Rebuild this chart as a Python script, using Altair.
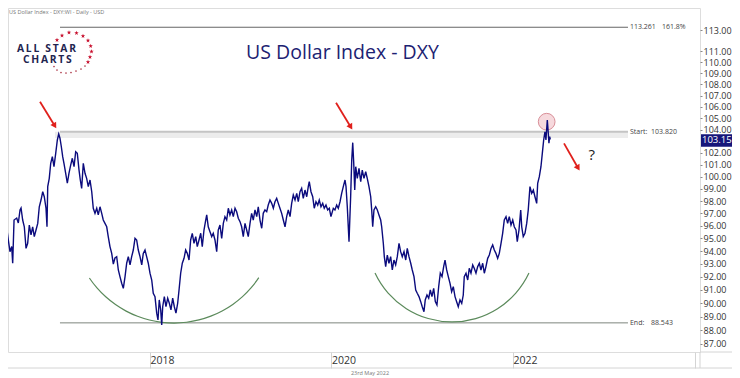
import altair as alt
import pandas as pd

# ---------------- data (decimal year, DXY close) ----------------
YEARS = [
    2016.377, 2016.402, 2016.421, 2016.439, 2016.457, 2016.476, 2016.487, 2016.502, 2016.531, 2016.549,
    2016.568, 2016.579, 2016.597, 2016.615, 2016.634, 2016.652, 2016.670, 2016.689, 2016.707, 2016.725,
    2016.744, 2016.763, 2016.780, 2016.799, 2016.818, 2016.835, 2016.854, 2016.865, 2016.873, 2016.890,
    2016.906, 2016.924, 2016.942, 2016.961, 2016.979, 2016.994, 2017.008, 2017.023, 2017.038, 2017.052,
    2017.071, 2017.089, 2017.107, 2017.126, 2017.144, 2017.163, 2017.181, 2017.199, 2017.218, 2017.232,
    2017.247, 2017.265, 2017.284, 2017.302, 2017.320, 2017.339, 2017.358, 2017.375, 2017.394, 2017.413,
    2017.430, 2017.449, 2017.468, 2017.485, 2017.504, 2017.523, 2017.540, 2017.559, 2017.578, 2017.596,
    2017.614, 2017.633, 2017.651, 2017.669, 2017.688, 2017.706, 2017.725, 2017.743, 2017.761, 2017.780,
    2017.798, 2017.816, 2017.835, 2017.853, 2017.871, 2017.890, 2017.909, 2017.926, 2017.945, 2017.963,
    2017.981, 2018.000, 2018.019, 2018.036, 2018.055, 2018.074, 2018.088, 2018.102, 2018.118, 2018.129,
    2018.140, 2018.158, 2018.176, 2018.195, 2018.213, 2018.231, 2018.250, 2018.268, 2018.286, 2018.305,
    2018.320, 2018.338, 2018.356, 2018.375, 2018.393, 2018.411, 2018.430, 2018.448, 2018.466, 2018.485,
    2018.504, 2018.521, 2018.540, 2018.559, 2018.576, 2018.595, 2018.614, 2018.625, 2018.642, 2018.661,
    2018.680, 2018.697, 2018.716, 2018.735, 2018.752, 2018.771, 2018.790, 2018.808, 2018.826, 2018.845,
    2018.863, 2018.881, 2018.900, 2018.918, 2018.937, 2018.955, 2018.973, 2018.992, 2019.010, 2019.028,
    2019.047, 2019.065, 2019.083, 2019.102, 2019.120, 2019.138, 2019.157, 2019.176, 2019.193, 2019.212,
    2019.231, 2019.248, 2019.267, 2019.286, 2019.303, 2019.322, 2019.341, 2019.359, 2019.377, 2019.396,
    2019.414, 2019.432, 2019.451, 2019.469, 2019.488, 2019.506, 2019.524, 2019.543, 2019.561, 2019.579,
    2019.598, 2019.617, 2019.634, 2019.653, 2019.671, 2019.689, 2019.708, 2019.727, 2019.744, 2019.755,
    2019.774, 2019.793, 2019.810, 2019.829, 2019.848, 2019.865, 2019.884, 2019.903, 2019.920, 2019.939,
    2019.958, 2019.976, 2019.994, 2020.020, 2020.038, 2020.057, 2020.075, 2020.094, 2020.112, 2020.130,
    2020.149, 2020.160, 2020.174, 2020.193, 2020.211, 2020.223, 2020.234, 2020.245, 2020.256, 2020.267,
    2020.284, 2020.303, 2020.322, 2020.339, 2020.358, 2020.377, 2020.394, 2020.413, 2020.432, 2020.443,
    2020.454, 2020.468, 2020.487, 2020.505, 2020.523, 2020.542, 2020.553, 2020.571, 2020.582, 2020.597,
    2020.615, 2020.633, 2020.652, 2020.670, 2020.688, 2020.707, 2020.725, 2020.744, 2020.762, 2020.780,
    2020.799, 2020.818, 2020.835, 2020.854, 2020.873, 2020.890, 2020.909, 2020.928, 2020.945, 2020.964,
    2020.983, 2021.000, 2021.019, 2021.033, 2021.052, 2021.071, 2021.089, 2021.107, 2021.126, 2021.144,
    2021.162, 2021.181, 2021.199, 2021.218, 2021.236, 2021.251, 2021.269, 2021.287, 2021.306, 2021.324,
    2021.342, 2021.361, 2021.379, 2021.397, 2021.416, 2021.435, 2021.452, 2021.463, 2021.482, 2021.501,
    2021.518, 2021.537, 2021.556, 2021.573, 2021.592, 2021.611, 2021.629, 2021.647, 2021.666, 2021.684,
    2021.702, 2021.721, 2021.739, 2021.758, 2021.776, 2021.794, 2021.812, 2021.831, 2021.849, 2021.868,
    2021.886, 2021.904, 2021.923, 2021.941, 2021.959, 2021.978, 2021.997, 2022.014, 2022.033, 2022.047,
    2022.066, 2022.085, 2022.096, 2022.113, 2022.132, 2022.151, 2022.168, 2022.187, 2022.206, 2022.224,
    2022.242, 2022.261, 2022.272, 2022.290, 2022.308, 2022.323, 2022.338, 2022.352, 2022.363, 2022.378,
    2022.389, 2022.396, 2022.404, 2022.411,
]
DXY = [
    94.24, 95.66, 95.82, 94.87, 93.95, 94.35, 93.05, 96.46, 96.62, 96.22,
    97.27, 97.43, 96.46, 95.92, 94.21, 94.61, 96.06, 95.27, 95.92, 95.14,
    95.66, 96.19, 97.53, 98.08, 98.76, 98.35, 97.41, 95.92, 99.18, 99.87,
    101.13, 101.69, 100.84, 101.97, 103.11, 103.63, 103.26, 102.53, 101.69, 101.13,
    100.29, 99.46, 100.29, 100.98, 101.55, 100.84, 102.11, 101.97, 100.56, 99.73,
    99.04, 101.13, 100.29, 99.87, 99.18, 99.73, 98.76, 97.41, 97.00, 97.41,
    96.87, 97.53, 97.00, 96.46, 96.19, 95.92, 95.14, 94.35, 93.82, 92.99,
    93.46, 93.56, 92.53, 92.02, 91.51, 91.13, 92.02, 93.05, 93.56, 92.92,
    93.56, 94.08, 95.00, 94.87, 94.08, 93.56, 92.92, 93.82, 94.08, 93.56,
    93.05, 92.28, 91.76, 90.75, 90.50, 89.26, 88.76, 90.25, 89.50, 88.39,
    89.74, 90.50, 89.74, 90.38, 90.00, 89.50, 90.38, 89.74, 89.26, 90.00,
    91.00, 92.28, 93.05, 93.43, 94.08, 93.82, 93.30, 94.87, 95.40, 94.61,
    95.14, 94.35, 94.87, 95.40, 94.35, 95.66, 96.46, 96.87, 95.92, 95.53,
    95.14, 95.40, 94.87, 93.95, 95.66, 96.06, 95.00, 96.19, 96.73, 96.46,
    97.41, 96.87, 97.27, 96.73, 97.41, 97.13, 96.60, 96.33, 95.92, 95.14,
    96.19, 95.66, 95.14, 96.19, 97.00, 96.46, 97.27, 96.73, 97.53, 96.46,
    95.80, 97.00, 97.27, 97.13, 97.67, 98.08, 97.81, 97.41, 97.94, 98.22,
    97.81, 97.41, 97.00, 96.46, 95.92, 96.73, 97.27, 96.73, 97.81, 98.49,
    98.08, 98.63, 97.94, 98.76, 99.04, 98.22, 98.90, 98.35, 99.18, 99.59,
    98.76, 98.35, 97.41, 97.94, 97.67, 98.08, 97.53, 97.81, 97.41, 97.67,
    97.27, 97.41, 96.73, 97.41, 97.27, 97.67, 97.41, 97.94, 98.63, 99.18,
    99.73, 99.18, 97.53, 94.74, 98.35, 101.41, 102.88, 101.13, 98.90, 100.84,
    99.87, 100.70, 99.59, 100.56, 99.87, 100.42, 99.87, 99.18, 98.35, 97.27,
    95.92, 97.27, 97.53, 97.27, 96.87, 96.46, 95.92, 94.61, 93.56, 92.79,
    93.69, 93.05, 93.56, 92.53, 93.30, 92.92, 93.56, 94.61, 93.95, 93.56,
    93.95, 93.30, 94.21, 93.56, 93.05, 92.53, 92.02, 91.00, 90.75, 90.50,
    90.12, 89.74, 89.37, 90.25, 90.62, 90.38, 91.00, 90.50, 91.13, 90.12,
    89.87, 91.25, 92.28, 92.02, 92.79, 93.30, 92.53, 92.02, 91.51, 90.87,
    91.25, 90.50, 90.12, 89.74, 90.25, 90.00, 90.62, 92.02, 92.28, 91.76,
    92.66, 92.28, 92.92, 92.66, 92.28, 92.79, 93.05, 92.53, 93.05, 92.28,
    92.79, 93.43, 93.69, 94.21, 94.48, 94.08, 93.82, 93.43, 93.82, 94.61,
    95.40, 96.46, 96.73, 96.19, 96.73, 96.06, 96.46, 95.92, 95.66, 94.74,
    95.66, 97.27, 95.92, 95.14, 95.40, 96.19, 97.27, 99.18, 98.63, 98.90,
    98.35, 97.81, 99.46, 100.01, 100.84, 101.97, 103.11, 103.82, 103.11, 104.84,
    103.68, 102.83, 103.40, 103.15,
]

X_TICKS = [2018, 2020, 2022, 2024]
Y_TICKS = [113, 111, 110, 109, 108, 107, 106, 105, 104, 102, 101, 100,
           99, 98, 97, 96, 95, 94, 93, 92, 91, 90, 89, 88, 87]

# Fibonacci levels drawn on the chart
LEVEL_VALUES = [113.261, 103.820, 88.543]
LEVEL_LEFT_TEXT = ["113.261", "Start:", "End:"]
LEVEL_RIGHT_TEXT = ["161.8%", "103.820", "88.543"]
LEVEL_RIGHT_X = [2023.642, 2023.521, 2023.521]
LEVEL_START, LEVEL_END = 2017.008, 2023.267
LEVEL_TEXT_X = 2023.289
LEVEL_COLORS = ["#666666", "#c4c4c4", "#7d857d"]
LEVEL_WIDTHS = [1.2, 2.0, 1.0]
BAND = (2016.953, 2023.267, 103.82, 103.28)

LAST_PRICE = 103.15
LAST_BOX = (103.60, 102.53)

# red arrows (start -> tip)
ARROW_X = [2016.788, 2020.050, 2022.562]
ARROW_Y = [106.45, 106.36, 102.82]
ARROW_X2 = [2016.945, 2020.207, 2022.712]
ARROW_Y2 = [104.40, 104.30, 100.80]
QUESTION = (2022.867, 101.83)
PEAK_CIRCLE = (2022.371, 104.69)

# rounded bottoms (centre year, centre value, radius px, start/end angle)
ARCS = [(2018.2645, 96.38, 102, 2.16, 4.12), (2021.328, 95.11, 85, 2.01, 4.275)]

X_DOM = [2016.4353, 2024.0606]
Y_DOM = [86.42, 115.09]
W, H = 692, 344

xs = alt.Scale(domain=X_DOM, nice=False, zero=False)
ys = alt.Scale(type="log", domain=Y_DOM, nice=False, zero=False)
FONT = "Open Sans"

X_AXIS = alt.Axis(
    values=X_TICKS, format="d", labelExpr="datum.value >= 2024 ? '' : datum.label",
    title=None, grid=False, domain=False, ticks=True, tickSize=16, tickColor="#d4d4d4",
    labelAlign="left", labelBaseline="middle", labelPadding=-8, labelFlush=False,
    labelOverlap=False, labelFont=FONT, labelFontSize=10.5, labelColor="#333")
Y_AXIS = alt.Axis(
    orient="right", values=Y_TICKS, format=".2f", title=None, grid=False, domain=False,
    tickSize=2, tickColor="#888", labelPadding=1, labelOverlap=False, labelFlush=False,
    labelFont=FONT, labelFontSize=9, labelColor="#333")


def X(field=None, datum=None):
    if datum is not None:
        return alt.X(datum=datum, type="quantitative", scale=xs, axis=X_AXIS)
    return alt.X(field, type="quantitative", scale=xs, axis=X_AXIS)


def Y(field=None, datum=None):
    if datum is not None:
        return alt.Y(datum=datum, type="quantitative", scale=ys, axis=Y_AXIS)
    return alt.Y(field, type="quantitative", scale=ys, axis=Y_AXIS)


df = pd.DataFrame({"year": YEARS, "dxy": DXY})
ONE = pd.DataFrame({"k": [0]})

layers = []

# start band
band_df = pd.DataFrame({"x": [BAND[0]], "x2": [BAND[1]], "y": [BAND[2]], "y2": [BAND[3]]})
layers.append(alt.Chart(band_df).mark_rect(color="#ececec").encode(
    x=X("x"), x2="x2:Q", y=Y("y"), y2="y2:Q"))

# level lines
for v, c, w in zip(LEVEL_VALUES, LEVEL_COLORS, LEVEL_WIDTHS):
    ldf = pd.DataFrame({"x": [LEVEL_START], "x2": [LEVEL_END], "y": [v]})
    layers.append(alt.Chart(ldf).mark_rule(color=c, strokeWidth=w).encode(
        x=X("x"), x2="x2:Q", y=Y("y")))

lvl = pd.DataFrame({"y": LEVEL_VALUES, "t1": LEVEL_LEFT_TEXT, "t2": LEVEL_RIGHT_TEXT,
                    "x1": [LEVEL_TEXT_X] * 3, "x2": LEVEL_RIGHT_X})
layers.append(alt.Chart(lvl).mark_text(align="left", baseline="middle", font=FONT,
                                       fontSize=7, color="#444").encode(
    x=X("x1"), y=Y("y"), text="t1:N"))
layers.append(alt.Chart(lvl).mark_text(align="left", baseline="middle", font=FONT,
                                       fontSize=7, color="#444").encode(
    x=X("x2"), y=Y("y"), text="t2:N"))

# green arcs
for cx, cy, r, t1, t2 in ARCS:
    layers.append(alt.Chart(ONE).mark_arc(color="#5b8a5b", radius=r + 0.6, radius2=r - 0.6,
                                          theta=t1, theta2=t2).encode(
        x=X(datum=cx), y=Y(datum=cy)))

# peak circle
layers.append(alt.Chart(ONE).mark_point(shape="circle", size=280, filled=True, fill="#f6d9dd",
                                        stroke="#d98f98", strokeWidth=1, opacity=1).encode(
    x=X(datum=PEAK_CIRCLE[0]), y=Y(datum=PEAK_CIRCLE[1])))

# price line
layers.append(alt.Chart(df).mark_line(color="#0b0b7d", strokeWidth=1.4, clip=True).encode(
    x=X("year"), y=Y("dxy")))

# arrows
arr = pd.DataFrame({"x": ARROW_X, "y": ARROW_Y, "x2": ARROW_X2, "y2": ARROW_Y2})
layers.append(alt.Chart(arr).mark_rule(color="#e0201c", strokeWidth=1.8).encode(
    x=X("x"), y=Y("y"), x2="x2:Q", y2="y2:Q"))
layers.append(alt.Chart(arr).mark_point(shape="triangle", filled=True, size=45, angle=149,
                                        color="#e0201c", opacity=1).encode(
    x=X("x2"), y=Y("y2")))

layers.append(alt.Chart(ONE).mark_text(text="?", font=FONT, fontSize=15, color="#222",
                                       align="center", baseline="middle").encode(
    x=X(datum=QUESTION[0]), y=Y(datum=QUESTION[1])))

# last price tag on the axis
layers.append(alt.Chart(ONE).mark_rect(color="#16167a").encode(
    x=alt.value(693), x2=alt.value(729),
    y=Y(datum=LAST_BOX[0]), y2=alt.Y2(datum=LAST_BOX[1])))
layers.append(alt.Chart(ONE).mark_text(text=f"{LAST_PRICE:.2f}", font=FONT, fontSize=9.5,
                                       color="white", align="left", baseline="middle").encode(
    x=alt.value(694), y=Y(datum=LAST_PRICE)))

# axis band frame lines
layers.append(alt.Chart(ONE).mark_rule(color="#d4d4d4").encode(
    x=alt.value(0), x2=alt.value(724), y=alt.value(360)))
layers.append(alt.Chart(ONE).mark_rule(color="#d4d4d4").encode(
    x=alt.value(692), x2=alt.value(724), y=alt.value(344)))
layers.append(alt.Chart(ONE).mark_rule(color="#d4d4d4").encode(
    x=alt.value(692), y=alt.value(344), y2=alt.value(360)))

# title, header, footer
layers.append(alt.Chart(ONE).mark_text(text="US Dollar Index - DXY", font=FONT, fontSize=19.5,
                                       color="#1c2272", align="center",
                                       baseline="alphabetic").encode(
    x=alt.value(334.5), y=alt.value(50.5)))
layers.append(alt.Chart(ONE).mark_text(text="US Dollar Index - DXY:WI - Daily - USD", font=FONT,
                                       fontSize=5.5, color="#777", align="left",
                                       baseline="middle").encode(x=alt.value(1), y=alt.value(4)))
layers.append(alt.Chart(ONE).mark_text(text="23rd May 2022", font=FONT, fontSize=5.5,
                                       color="#777", align="center",
                                       baseline="middle").encode(x=alt.value(362), y=alt.value(365)))

# logo
LOGO_NAVY = "#1f2550"
TS = "\u2009"
layers.append(alt.Chart(ONE).mark_text(text=TS.join("ALL STAR"), font=FONT, fontWeight="bold",
                                       fontSize=10.3, color=LOGO_NAVY, align="center",
                                       baseline="alphabetic").encode(
    x=alt.value(38.5), y=alt.value(44.3)))
layers.append(alt.Chart(ONE).mark_text(text=TS.join("CHARTS"), font=FONT, fontWeight="bold",
                                       fontSize=10.3, color=LOGO_NAVY, align="center",
                                       baseline="alphabetic").encode(
    x=alt.value(39.3), y=alt.value(54.7)))
STAR = "M0,-1L0.24,-0.31L0.95,-0.31L0.38,0.12L0.59,0.81L0,0.4L-0.59,0.81L-0.38,0.12L-0.95,-0.31L-0.24,-0.31Z"
LOGO_STARS = [(49, 32), (54, 27.5), (61, 24.5), (68.5, 25), (75, 28), (80, 32.5),
              (82.7, 38), (83.5, 43.5), (82, 49), (80, 54)]
LOGO_DOTS = [(77, 58), (73, 61), (68, 63), (63, 64.5), (58, 65), (53, 64.5), (49, 62), (46, 58.5)]
for sx, sy in LOGO_STARS:
    layers.append(alt.Chart(ONE).mark_point(shape=STAR, size=22, filled=True, color="#c8102e",
                                            opacity=1).encode(x=alt.value(sx), y=alt.value(sy)))
for sx, sy in LOGO_DOTS:
    layers.append(alt.Chart(ONE).mark_point(shape="circle", size=3, filled=True,
                                            color="#b04050", opacity=1).encode(
        x=alt.value(sx), y=alt.value(sy)))

chart = alt.layer(*layers).properties(
    width=W, height=H,
    autosize=alt.AutoSizeParams(type="none"),
    padding={"left": 0, "top": 0, "right": 32, "bottom": 24},
).configure_view(stroke="#d0d0d0").configure(background="white")

chart.save("out.html", embed_options={"renderer": "svg", "actions": False})
